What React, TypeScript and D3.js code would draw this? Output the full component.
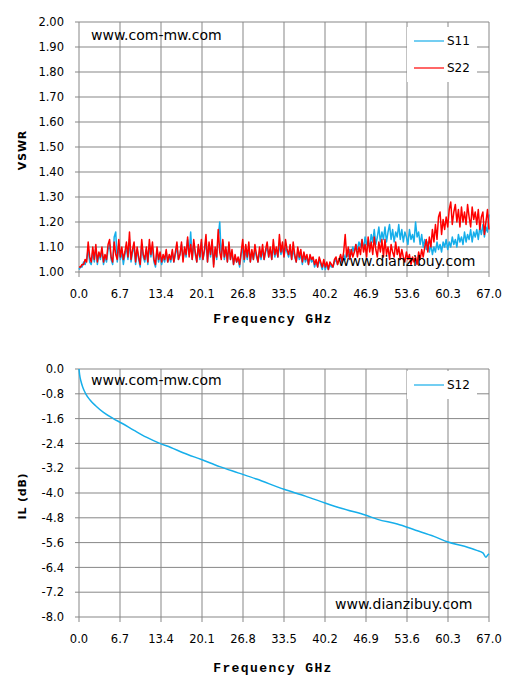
import React from "react";
import * as d3 from "d3";

// ---------- DATA ----------
const FREQ_STEP = 0.25; // GHz between sweep samples
const S11 = [
  1.01,1.02,1.02,1.04,1.03,1.05,1.09,1.04,1.03,1.08,
  1.04,1.10,1.03,1.07,1.05,1.09,1.03,1.06,1.04,1.09,
  1.11,1.05,1.03,1.14,1.16,1.04,1.11,1.05,1.08,1.03,
  1.07,1.10,1.05,1.13,1.04,1.08,1.10,1.03,1.09,1.05,
  1.02,1.11,1.06,1.04,1.09,1.03,1.11,1.06,1.10,1.04,
  1.02,1.09,1.04,1.07,1.03,1.06,1.04,1.08,1.04,1.06,
  1.04,1.08,1.04,1.07,1.10,1.05,1.07,1.11,1.05,1.09,
  1.06,1.13,1.07,1.16,1.05,1.11,1.07,1.04,1.10,1.05,
  1.12,1.05,1.08,1.13,1.04,1.11,1.06,1.12,1.03,1.09,
  1.05,1.14,1.20,1.06,1.12,1.05,1.09,1.04,1.11,1.05,
  1.08,1.03,1.06,1.04,1.05,1.02,1.07,1.10,1.04,1.09,
  1.05,1.10,1.04,1.08,1.05,1.09,1.06,1.04,1.08,1.05,
  1.09,1.05,1.08,1.10,1.06,1.09,1.05,1.10,1.06,1.09,
  1.06,1.11,1.07,1.10,1.06,1.10,1.08,1.06,1.09,1.05,
  1.09,1.06,1.04,1.08,1.05,1.07,1.03,1.07,1.04,1.06,
  1.03,1.06,1.04,1.05,1.02,1.04,1.02,1.05,1.03,1.01,
  1.04,1.01,1.03,1.01,1.03,1.02,1.02,1.04,1.05,1.03,
  1.05,1.06,1.04,1.07,1.05,1.08,1.06,1.09,1.07,1.10,
  1.08,1.11,1.09,1.12,1.10,1.13,1.09,1.14,1.11,1.12,
  1.10,1.15,1.12,1.17,1.11,1.14,1.18,1.12,1.16,1.13,
  1.18,1.12,1.16,1.19,1.13,1.17,1.12,1.16,1.14,1.19,
  1.13,1.17,1.12,1.16,1.14,1.11,1.17,1.13,1.15,1.12,
  1.20,1.14,1.16,1.11,1.15,1.10,1.13,1.09,1.12,1.08,
  1.11,1.07,1.10,1.08,1.12,1.09,1.11,1.08,1.12,1.10,
  1.13,1.09,1.12,1.10,1.14,1.11,1.13,1.10,1.15,1.12,
  1.14,1.11,1.16,1.12,1.15,1.13,1.17,1.12,1.16,1.14,
  1.17,1.13,1.18,1.15,1.19,1.14,1.18,1.16,1.23,
];
const S22 = [
  1.02,1.02,1.03,1.03,1.05,1.04,1.12,1.06,1.04,1.10,
  1.05,1.11,1.04,1.08,1.06,1.10,1.04,1.07,1.05,1.11,
  1.13,1.06,1.04,1.12,1.07,1.05,1.13,1.06,1.10,1.05,
  1.08,1.12,1.06,1.16,1.05,1.09,1.12,1.04,1.10,1.06,
  1.03,1.13,1.07,1.05,1.10,1.04,1.13,1.07,1.12,1.05,
  1.03,1.10,1.05,1.08,1.04,1.07,1.05,1.09,1.04,1.07,
  1.05,1.09,1.04,1.08,1.12,1.05,1.07,1.12,1.04,1.10,
  1.07,1.14,1.06,1.11,1.05,1.13,1.08,1.04,1.11,1.06,
  1.13,1.05,1.09,1.15,1.04,1.12,1.07,1.13,1.02,1.10,
  1.06,1.17,1.08,1.05,1.13,1.06,1.10,1.04,1.12,1.05,
  1.09,1.03,1.07,1.04,1.06,1.03,1.08,1.13,1.05,1.11,
  1.06,1.12,1.04,1.09,1.05,1.11,1.07,1.04,1.10,1.06,
  1.11,1.05,1.09,1.12,1.06,1.10,1.05,1.13,1.07,1.10,
  1.06,1.15,1.08,1.12,1.06,1.13,1.09,1.07,1.11,1.05,
  1.12,1.07,1.04,1.10,1.06,1.09,1.04,1.08,1.05,1.07,
  1.03,1.07,1.05,1.06,1.03,1.05,1.02,1.06,1.04,1.02,
  1.05,1.02,1.04,1.01,1.04,1.03,1.02,1.05,1.06,1.03,
  1.05,1.07,1.04,1.08,1.15,1.06,1.10,1.05,1.09,1.06,
  1.08,1.11,1.06,1.10,1.07,1.13,1.08,1.11,1.06,1.14,
  1.08,1.12,1.07,1.14,1.09,1.06,1.12,1.08,1.13,1.06,
  1.13,1.07,1.10,1.05,1.11,1.08,1.06,1.12,1.07,1.10,
  1.05,1.09,1.06,1.04,1.08,1.05,1.07,1.03,1.06,1.04,
  1.06,1.03,1.08,1.05,1.09,1.06,1.10,1.13,1.08,1.14,
  1.10,1.17,1.12,1.19,1.13,1.22,1.24,1.15,1.21,1.17,
  1.22,1.18,1.25,1.28,1.19,1.24,1.27,1.20,1.25,1.18,
  1.26,1.20,1.24,1.19,1.27,1.22,1.18,1.26,1.21,1.24,
  1.19,1.25,1.17,1.22,1.24,1.15,1.20,1.25,1.17,
];
const S12_FREQ = [0,0.1,0.3,0.6,1.1,1.8,2.8,4,5.6,7,9,11,13.2,15,17,20,23,26,29,33.5,37,40.2,43,46.9,48.8,52,55,58,60.3,63,65,66,66.5,66.8,67];
const S12_VAL = [0,-0.18,-0.38,-0.58,-0.8,-1.0,-1.2,-1.4,-1.6,-1.75,-1.98,-2.2,-2.4,-2.53,-2.7,-2.92,-3.15,-3.35,-3.55,-3.88,-4.1,-4.32,-4.5,-4.72,-4.85,-5.0,-5.2,-5.4,-5.58,-5.72,-5.85,-5.93,-6.07,-6.0,-5.96];
const X_TICKS = [0, 6.7, 13.4, 20.1, 26.8, 33.5, 40.2, 46.9, 53.6, 60.3, 67.0];
const VSWR_TICKS = [1.0, 1.1, 1.2, 1.3, 1.4, 1.5, 1.6, 1.7, 1.8, 1.9, 2.0];
const IL_TICKS = [0, -0.8, -1.6, -2.4, -3.2, -4.0, -4.8, -5.6, -6.4, -7.2, -8.0];

const BLUE = "#16AEEA";
const RED = "#FF0000";
const GRID = "#878787";
const SANS = "'DejaVu Sans', Verdana, sans-serif";

type Series = { name: string; color: string; pts: [number, number][] };

function Panel(props: {
  top: number; bottom: number; yDomain: [number, number]; yTicks: number[];
  yFmt: (v: number) => string; yTitle: string; series: Series[];
  legendTop: number; legendH: number; wmTopY: number; wmBotY: number; wmBotX: number;
  xLabelY: number; xTitleY: number; curve?: boolean;
}) {
  const L = 79, R = 489;
  const x = d3.scaleLinear().domain([0, 67]).range([L, R]);
  const y = d3.scaleLinear().domain(props.yDomain).range([props.bottom, props.top]);
  const line = d3.line<[number, number]>().x(d => x(d[0])).y(d => y(d[1]));
  if (props.curve) line.curve(d3.curveMonotoneX);
  const lx = 407, lw = 70;
  return (
    <g>
      {props.yTicks.map((t, i) => (
        <g key={"y" + i}>
          <line x1={L - 4} x2={R} y1={y(t)} y2={y(t)} stroke={GRID} strokeWidth={1} />
          <text x={64} y={y(t)} dy="0.36em" textAnchor="end" fontFamily={SANS} fontSize={11.5} fill="#000">{props.yFmt(t)}</text>
        </g>
      ))}
      {X_TICKS.map((t, i) => (
        <g key={"x" + i}>
          <line x1={x(t)} x2={x(t)} y1={props.top} y2={props.bottom + 5} stroke={GRID} strokeWidth={1} />
          <text x={x(t)} y={props.xLabelY} textAnchor="middle" fontFamily={SANS} fontSize={11.5} fill="#000">{t.toFixed(1)}</text>
        </g>
      ))}
      {props.series.map(s => (
        <path key={s.name} d={line(s.pts) || ""} fill="none" stroke={s.color} strokeWidth={1.5} strokeLinejoin="round" />
      ))}
      <rect x={lx} y={props.legendTop} width={lw} height={props.legendH} fill="#fff" />
      {props.series.map((s, i) => (
        <g key={"lg" + s.name}>
          <line x1={414} x2={444} y1={props.legendTop + 14 + i * 27} y2={props.legendTop + 14 + i * 27} stroke={s.color} strokeWidth={1.2} />
          <text x={447} y={props.legendTop + 14 + i * 27} dy="0.36em" fontFamily={SANS} fontSize={12} fill="#000">{s.name}</text>
        </g>
      ))}
      <text x={91} y={props.wmTopY} fontFamily={SANS} fontSize={14} fill="#000">www.com-mw.com</text>
      <text x={props.wmBotX} y={props.wmBotY} fontFamily={SANS} fontSize={14} fill="#000">www.dianzibuy.com</text>
      <text x={273} y={props.xTitleY} textAnchor="middle" fontFamily="'Liberation Mono', monospace" fontWeight="bold" fontSize={13} letterSpacing={1.4} fill="#000">Frequency GHz</text>
      <text transform={`translate(22.5,${(props.top + props.bottom) / 2 + 3}) rotate(-90)`} textAnchor="middle" dy="0.36em" fontFamily={SANS} fontWeight="bold" fontSize={11} letterSpacing={0.8} fill="#000">{props.yTitle}</text>
    </g>
  );
}

export default function App() {
  const s11: [number, number][] = S11.map((v, i) => [i * FREQ_STEP, v]);
  const s22: [number, number][] = S22.map((v, i) => [i * FREQ_STEP, v]);
  const s12: [number, number][] = S12_VAL.map((v, i) => [S12_FREQ[i], v]);
  return (
    <svg width={515} height={695} style={{ position: "absolute", left: 0, top: 0, background: "#fff" }}>
      <rect x={0} y={0} width={515} height={695} fill="#fff" />
      <Panel top={22} bottom={272} yDomain={[1, 2]} yTicks={VSWR_TICKS} yFmt={v => v.toFixed(2)} yTitle="VSWR"
        series={[{ name: "S11", color: BLUE, pts: s11 }, { name: "S22", color: RED, pts: s22 }]}
        legendTop={27} legendH={55} wmTopY={40} wmBotY={266} wmBotX={338} xLabelY={298} xTitleY={323} />
      <Panel top={369} bottom={617} yDomain={[-8, 0]} yTicks={IL_TICKS} yFmt={v => v.toFixed(1)} yTitle="IL (dB)"
        series={[{ name: "S12", color: BLUE, pts: s12 }]} curve
        legendTop={371} legendH={28} wmTopY={385} wmBotY={609} wmBotX={335} xLabelY={643} xTitleY={672} />
    </svg>
  );
}
